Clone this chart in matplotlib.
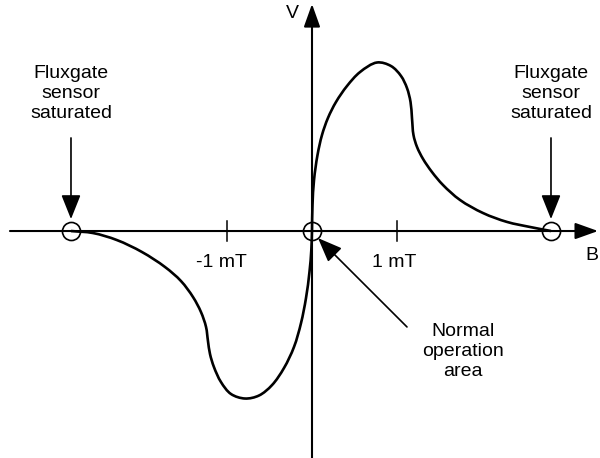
import numpy as np
import matplotlib.pyplot as plt
from matplotlib.patches import ArrowStyle, PathPatch
from matplotlib.path import Path

plt.rcParams['font.family'] = ['Liberation Sans', 'DejaVu Sans']

# Fluxgate output voltage (arb. units) versus field B (mT)
B_neg = [-2.852, -2.592, -2.308, -2.012, -1.740, -1.550, -1.408, -1.314,
         -1.254, -1.231, -1.207, -1.160, -1.077, -0.959, -0.793, -0.627,
         -0.473, -0.331, -0.213, -0.130, -0.071, -0.030, -0.008, 0.0]
V_neg = [0.0, -0.012, -0.054, -0.125, -0.214, -0.298, -0.393, -0.482,
         -0.571, -0.655, -0.732, -0.810, -0.899, -0.970, -0.997, -0.979,
         -0.917, -0.815, -0.690, -0.548, -0.399, -0.244, -0.113, 0.0]

B_pos = [0.0, 0.006, 0.024, 0.065, 0.118, 0.189, 0.284, 0.414, 0.568, 0.769,
         0.935, 1.053, 1.124, 1.166, 1.183, 1.201, 1.243, 1.314, 1.420,
         1.550, 1.751, 2.024, 2.308, 2.580, 2.828]
V_pos = [0.0, 0.155, 0.304, 0.452, 0.571, 0.673, 0.768, 0.863, 0.946, 1.003,
         0.982, 0.923, 0.851, 0.768, 0.673, 0.571, 0.500, 0.429, 0.351,
         0.274, 0.185, 0.107, 0.054, 0.024, 0.0]

# saturation points and the origin
marked_B = [-2.852, 0.0, 2.828]
tick_B = [-1, 1]
tick_labels = ['-1 mT', '1 mT']

# screen scale (px per unit) used to space the spline knots
SX, SY = 84.5, 168.0


def smooth_path(xs, ys):
    # centripetal Catmull-Rom through the points, written as Bezier segments
    p = np.column_stack([np.asarray(xs) * SX, np.asarray(ys) * SY])
    q = np.vstack([2 * p[0] - p[1], p, 2 * p[-1] - p[-2]])
    verts = [p[0]]
    codes = [Path.MOVETO]
    for i in range(1, len(q) - 2):
        p0, p1, p2, p3 = q[i - 1], q[i], q[i + 1], q[i + 2]
        d01 = np.linalg.norm(p1 - p0) ** 0.5
        d12 = np.linalg.norm(p2 - p1) ** 0.5
        d23 = np.linalg.norm(p3 - p2) ** 0.5
        m1 = (p1 - p0) / d01 - (p2 - p0) / (d01 + d12) + (p2 - p1) / d12
        m2 = (p2 - p1) / d12 - (p3 - p1) / (d12 + d23) + (p3 - p2) / d23
        verts += [p1 + m1 * d12 / 3, p2 - m2 * d12 / 3, p2]
        codes += [Path.CURVE4] * 3
    verts = np.array(verts) / [SX, SY]
    return Path(verts, codes)


fig = plt.figure(figsize=(6, 4.58), dpi=100)
ax = fig.add_axes([0, 0, 1, 1])
ax.set_xlim(-3.692, 3.408)
ax.set_ylim(-1.351, 1.375)
ax.axis('off')

axis_head = ArrowStyle('-|>', head_length=1.4, head_width=0.5)
ann_head = ArrowStyle('-|>', head_length=1.5, head_width=0.6)

# coordinate axes
ax.annotate('', xy=(3.385, 0), xytext=(-3.574, 0),
            arrowprops=dict(arrowstyle=axis_head, mutation_scale=10, lw=1.5,
                            color='black', shrinkA=0, shrinkB=0))
ax.annotate('', xy=(0, 1.351), xytext=(0, -1.351),
            arrowprops=dict(arrowstyle=axis_head, mutation_scale=10, lw=1.5,
                            color='black', shrinkA=0, shrinkB=0))
ax.text(-0.237, 1.292, 'V', ha='center', va='center', fontsize=14)
ax.text(3.314, -0.143, 'B', ha='center', va='center', fontsize=14)

for b, lab in zip(tick_B, tick_labels):
    ax.plot([b, b], [-0.06, 0.06], color='black', lw=1.1)
    ax.text(b - 0.04 * (b < 0) - 0.03, -0.185, lab, ha='center', va='center',
            fontsize=14)

for xs, ys in ((B_neg, V_neg), (B_pos, V_pos)):
    ax.add_patch(PathPatch(smooth_path(xs, ys), fill=False,
                           edgecolor='black', lw=1.9, joinstyle='round'))

ax.plot(marked_B, [0] * len(marked_B), 'o', ms=13, mfc='none',
        mec='black', mew=1.2)

# annotations
sat_text = 'Fluxgate\nsensor\nsaturated'
for b in (marked_B[0], marked_B[2]):
    ax.text(b, 0.821, sat_text, ha='center', va='center', fontsize=14,
            linespacing=1.23)
    ax.annotate('', xy=(b, 0.071), xytext=(b, 0.554),
                arrowprops=dict(arrowstyle=ann_head, mutation_scale=10,
                                lw=1.2, color='black', shrinkA=0, shrinkB=0))

ax.annotate('', xy=(0.071, -0.042), xytext=(1.124, -0.571),
            arrowprops=dict(arrowstyle=ann_head, mutation_scale=10,
                            lw=1.2, color='black', shrinkA=0, shrinkB=0))
ax.text(1.787, -0.720, 'Normal\noperation\narea', ha='center', va='center',
        fontsize=14, linespacing=1.23)

fig.savefig('out.png', dpi=100)
